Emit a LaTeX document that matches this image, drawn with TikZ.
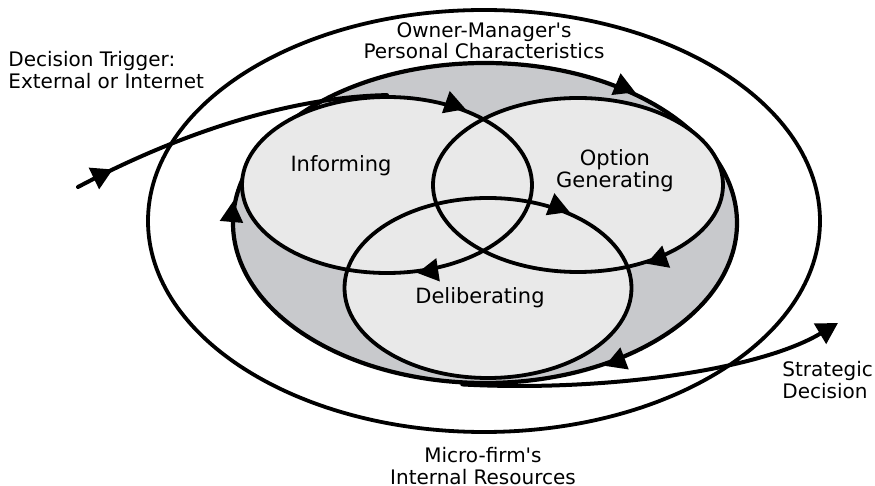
\documentclass[tikz,border=0pt]{standalone}
\usepackage{fontspec}
\setmainfont{DejaVu Sans}
\usetikzlibrary{arrows.meta,shapes.geometric,decorations.markings}
\definecolor{basegrey}{RGB}{200,201,204}
\definecolor{stagegrey}{RGB}{233,233,233}

\begin{document}
\begin{tikzpicture}[x=0.5pt,y=-0.5pt,line cap=round,line join=round,>={Triangle[length=10.5pt,width=11.5pt]},
  ring/.style={ellipse,inner sep=0pt},
  flowtip/.style={decorate,decoration={markings,mark=at position 0.999 with {\arrow[line width=1.2pt]{>}}}},
  lab/.style={font=\fontsize{10}{10.6}\selectfont,align=center,inner sep=0pt},
  stagelab/.style={font=\fontsize{10.5}{11}\selectfont,align=center,inner sep=0pt}]
\useasboundingbox (0,0) rectangle (875,486);
\coordinate (trig) at (78,187);
\coordinate (sd) at (838,323);
\node[ring,draw,line width=1.9pt,minimum width=336pt,minimum height=211pt] (env) at (484,221) {};
\node[ring,draw,fill=basegrey,line width=2.1pt,minimum width=252pt,minimum height=160pt] (base) at (485,223) {};
\foreach \c/\w/\h in {{(387,185)}/145/88,{(578,185)}/145/87,{(488,288)}/143.5/90}
  \node[ring,fill=stagegrey,minimum width=\w pt,minimum height=\h pt] at \c {};
\foreach \n/\c/\w/\h in {inf/{(387,185)}/145/88,opt/{(578,185)}/145/87,del/{(488,288)}/143.5/90}
  \node[ring,draw,line width=1.9pt,minimum width=\w pt,minimum height=\h pt] (\n) at \c {};
\draw[line width=2pt,postaction={decorate},decoration={markings,mark=at position 0.12 with {\arrow{>}}}] (trig) .. controls (180,133) and (290,97) .. (inf.north);
\draw[->,line width=2pt] (base.262) .. controls (600,392) and (758,371) .. (sd);
\path[flowtip] (inf.50) -- (inf.44);
\path[flowtip] (inf.295) -- (inf.289);
\path[flowtip] (opt.317) -- (opt.311);
\path[flowtip] (del.48) -- (del.43);
\path[flowtip] (base.47) -- (base.41);
\path[flowtip] (base.181) -- (base.175);
\path[flowtip] (base.316) -- (base.310);
\node[lab] (omc) at (484,41) {Owner-Manager\textquotesingle s\\Personal Characteristics};
\node[lab,align=left,anchor=west] (dt) at (8,70) {Decision Trigger:\\External or Internet};
\node[lab,align=left,anchor=west] (sdl) at (782,380) {Strategic\\Decision};
\node[lab] (mir) at (483,466) {Micro-firm\textquotesingle s\\Internal Resources};
\node[stagelab] (infl) at (341,166) {Informing};
\node[stagelab] (optl) at (615,171) {Option\\Generating};
\node[stagelab] (dell) at (480,298) {Deliberating};
\end{tikzpicture}
\end{document}
